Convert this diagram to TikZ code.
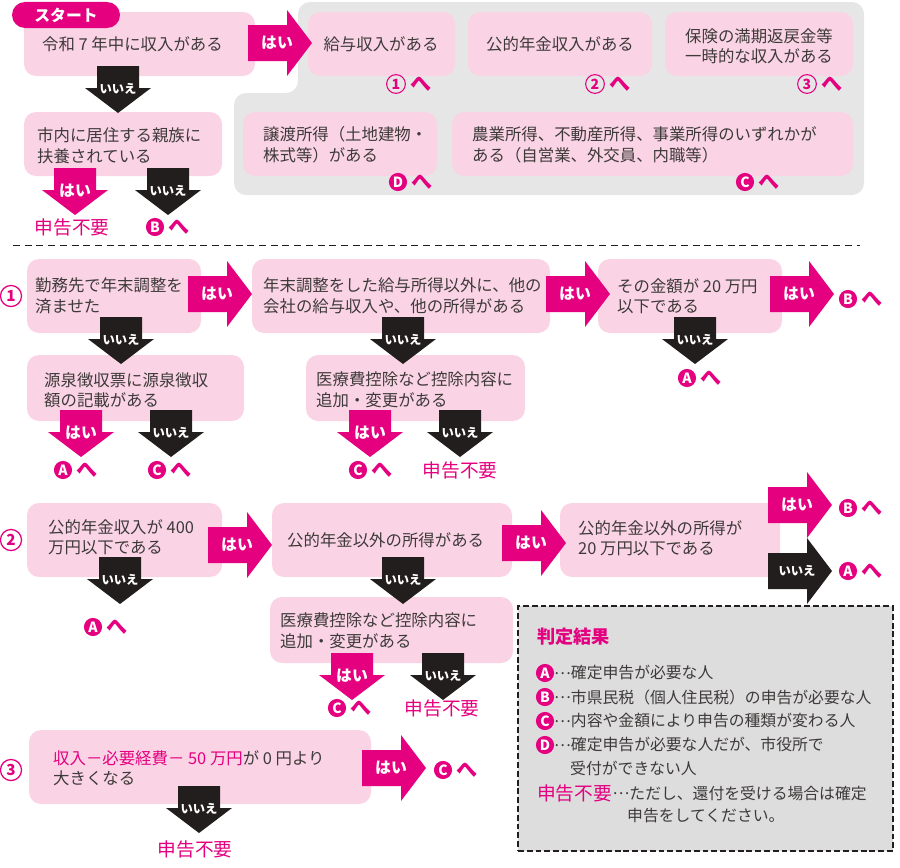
\documentclass[tikz,border=0pt]{standalone}
\usepackage{fontspec}
\setmainfont{Noto Sans CJK JP}
\usetikzlibrary{positioning,fit}

\definecolor{hotpink}{RGB}{228,0,127}
\definecolor{boxpink}{RGB}{250,212,229}
\definecolor{panelgray}{RGB}{230,230,230}
\definecolor{legendgray}{RGB}{221,221,222}
\definecolor{inkblack}{RGB}{35,30,30}
\definecolor{inkgray}{RGB}{62,58,57}

\tikzset{
    qbox/.style={rectangle, rounded corners=0.36cm, fill=boxpink, inner sep=0pt},
    qtext/.style={anchor=west, align=left, inner sep=0pt, text=inkgray,
        font=\fontsize{14}{17.5}\selectfont},
    starttab/.style={rectangle, rounded corners=0.39cm, fill=hotpink, text=white,
        minimum width=3.24cm, minimum height=0.78cm, inner sep=0pt,
        font=\bfseries\fontsize{13.5}{13.5}\selectfont},
    yesfill/.style={fill=hotpink},
    nofill/.style={fill=inkblack},
    yeslab/.style={text=white, inner sep=0pt, font=\bfseries\fontsize{13.5}{13.5}\selectfont},
    nolab/.style={text=white, inner sep=0pt, font=\bfseries\fontsize{10.5}{10.5}\selectfont},
    letmark/.style={circle, fill=hotpink, text=white, minimum size=15.5pt, inner sep=0pt,
        font=\bfseries\fontsize{12}{12}\selectfont},
    nummark/.style={circle, draw=hotpink, line width=0.9pt, text=hotpink, minimum size=16pt,
        inner sep=0pt, font=\bfseries\fontsize{12}{12}\selectfont},
    secmark/.style={circle, draw=hotpink, line width=1.1pt, text=hotpink, minimum size=18pt,
        inner sep=0pt, font=\bfseries\fontsize{13}{13}\selectfont},
    hemark/.style={text=hotpink, inner sep=0pt, font=\bfseries\fontsize{18}{18}\selectfont},
    notneeded/.style={text=hotpink, inner sep=0pt, font=\fontsize{16}{16}\selectfont},
    legendbox/.style={rectangle, fill=legendgray, draw=inkblack, line width=1.5pt,
        dash pattern=on 5pt off 2.5pt, inner sep=0pt},
    legendhead/.style={anchor=west, text=hotpink, inner sep=0pt,
        font=\bfseries\fontsize{15.5}{15.5}\selectfont},
    legendtext/.style={anchor=west, text=inkgray, inner sep=0pt,
        font=\fontsize{13.5}{16}\selectfont},
    sepline/.style={draw=inkblack, line width=0.8pt, dash pattern=on 6pt off 4pt}
}

\newcommand{\downblock}[5]{%
    \fill[#1fill] (#3-21,#4) -- (#3+21,#4) -- (#3+21,#4+22)
        -- (#3+33,#4+22) -- (#3,#4+47) -- (#3-33,#4+22)
        -- (#3-21,#4+22) -- cycle;
    \node[#1lab] (#2) at (#3,#4+23) {#5};%
}
\newcommand{\rightblock}[5]{%
    \fill[#1fill] (#3,#4-18) -- (#3+39,#4-18) -- (#3+39,#4-33)
        -- (#3+64,#4) -- (#3+39,#4+33) -- (#3+39,#4+18)
        -- (#3,#4+18) -- cycle;
    \node[#1lab] (#2) at (#3+29,#4) {#5};%
}
\newcommand{\tomark}[4]{%
    \node[letmark] (#1) at (#2,#3) {#4};
    \node[hemark, right=3.5pt of #1] (#1-he) {へ};%
}
\newcommand{\tonum}[4]{%
    \node[nummark] (#1) at (#2,#3) {#4};
    \node[hemark, right=4pt of #1] (#1-he) {へ};%
}
\newcommand{\middots}{\raisebox{0.3em}{…}}

\begin{document}
\begin{tikzpicture}[
    x=0.03cm,
    y=-0.03cm
]
    \useasboundingbox (0,0) rectangle (900,867);

    \fill[panelgray, rounded corners=0.36cm] (298,2) -- (864,2) -- (864,195)
        -- (234,195) -- (234,93) -- (298,93) -- cycle;

    \node[qbox, fit={(24,12) (255,76)}] (income) {};
    \node[qtext] (income-t) at (42,44) {令和 7 年中に収入がある};
    \node[starttab] (start) at (66,15) {スタート};
    \node[qbox, fit={(308,12) (455,76)}] (salary) {};
    \node[qtext, anchor=center] (salary-t) at (381,44) {給与収入がある};
    \node[qbox, fit={(468,12) (652,76)}] (pension) {};
    \node[qtext, anchor=center] (pension-t) at (560,44) {公的年金収入がある};
    \node[qbox, fit={(665,12) (853,76)}] (lumpsum) {};
    \node[qtext, anchor=center, align=center] (lumpsum-t) at (759,46)
        {保険の満期返戻金等\\一時的な収入がある};
    \node[qbox, fit={(243,112) (437,176)}] (transfer) {};
    \node[qtext] (transfer-t) at (263,145) {譲渡所得（土地建物・\\株式等）がある};
    \node[qbox, fit={(452,112) (853,176)}] (business) {};
    \node[qtext] (business-t) at (472,145)
        {農業所得、不動産所得、事業所得のいずれかが\\ある（自営業、外交員、内職等）};
    \node[qbox, fit={(24,112) (222,176)}] (family) {};
    \node[qtext] (family-t) at (37,146) {市内に居住する親族に\\扶養されている};

    \rightblock{yes}{income-yes}{248}{43}{はい}
    \downblock{no}{income-no}{118}{66}{いいえ}
    \downblock{yes}{family-yes}{75}{168}{はい}
    \downblock{no}{family-no}{168}{168}{いいえ}

    \tonum{to-one}{396}{84}{1}
    \tonum{to-two}{595}{84}{2}
    \tonum{to-three}{807}{84}{3}
    \tomark{transfer-d}{398}{182}{D}
    \tomark{business-c}{745}{182}{C}
    \node[notneeded] (family-none) at (72,227) {申告不要};
    \tomark{family-b}{155}{227}{B}

    \draw[sepline] (13,245) -- (860,245);

    \node[secmark] (sec-one) at (11,296) {1};
    \node[qbox, fit={(27,259) (201,333)}] (yearend) {};
    \node[qtext] (yearend-t) at (35,296) {勤務先で年末調整を\\済ませた};
    \node[qbox, fit={(252,259) (550,333)}] (other) {};
    \node[qtext] (other-t) at (263,296)
        {年末調整をした給与所得以外に、他の\\会社の給与収入や、他の所得がある};
    \node[qbox, fit={(598,259) (782,333)}] (amount) {};
    \node[qtext] (amount-t) at (617,296) {その金額が 20 万円\\以下である};
    \node[qbox, fit={(27,355) (244,421)}] (withhold) {};
    \node[qtext] (withhold-t) at (44,390) {源泉徴収票に源泉徴収\\額の記載がある};
    \node[qbox, fit={(306,355) (525,421)}] (deduct-one) {};
    \node[qtext] (deduct-one-t) at (316,390) {医療費控除など控除内容に\\追加・変更がある};

    \rightblock{yes}{yearend-yes}{188}{294}{はい}
    \rightblock{yes}{other-yes}{546}{294}{はい}
    \rightblock{yes}{amount-yes}{770}{294}{はい}
    \downblock{no}{yearend-no}{121}{317}{いいえ}
    \downblock{no}{other-no}{403}{317}{いいえ}
    \downblock{no}{amount-no}{695}{317}{いいえ}
    \downblock{yes}{withhold-yes}{81}{410}{はい}
    \downblock{no}{withhold-no}{171}{410}{いいえ}
    \downblock{yes}{deduct-one-yes}{370}{410}{はい}
    \downblock{no}{deduct-one-no}{460}{410}{いいえ}

    \tomark{amount-b}{848}{299}{B}
    \tomark{amount-a}{687}{378}{A}
    \tomark{withhold-a}{63}{470}{A}
    \tomark{withhold-c}{157}{470}{C}
    \tomark{deduct-one-c}{358}{470}{C}
    \node[notneeded] (deduct-one-none) at (460,470) {申告不要};

    \node[secmark] (sec-two) at (11,540) {2};
    \node[qbox, fit={(27,503) (222,577)}] (pension-cap) {};
    \node[qtext] (pension-cap-t) at (48,537) {公的年金収入が 400\\万円以下である};
    \node[qbox, fit={(272,503) (512,577)}] (pension-other) {};
    \node[qtext] (pension-other-t) at (287,540) {公的年金以外の所得がある};
    \node[qbox, fit={(560,503) (780,577)}] (pension-small) {};
    \node[qtext] (pension-small-t) at (578,538) {公的年金以外の所得が\\20 万円以下である};
    \node[qbox, fit={(270,597) (513,663)}] (deduct-two) {};
    \node[qtext] (deduct-two-t) at (280,631) {医療費控除など控除内容に\\追加・変更がある};

    \rightblock{yes}{pension-cap-yes}{208}{545}{はい}
    \rightblock{yes}{pension-other-yes}{502}{543}{はい}
    \rightblock{yes}{pension-small-yes}{768}{505}{はい}
    \rightblock{no}{pension-small-no}{768}{571}{いいえ}
    \downblock{no}{pension-cap-no}{120}{557}{いいえ}
    \downblock{no}{pension-other-no}{403}{557}{いいえ}
    \downblock{yes}{deduct-two-yes}{352}{653}{はい}
    \downblock{no}{deduct-two-no}{443}{653}{いいえ}

    \tomark{pension-cap-a}{93}{627}{A}
    \tomark{pension-small-b}{848}{508}{B}
    \tomark{pension-small-a}{848}{571}{A}
    \tomark{deduct-two-c}{337}{708}{C}
    \node[notneeded] (deduct-two-none) at (442,708) {申告不要};

    \node[secmark] (sec-three) at (11,770) {3};
    \node[qbox, fit={(29,730) (371,804)}] (net) {};
    \node[qtext] (net-t) at (53,768)
        {{\color{hotpink}収入－必要経費－ 50 万円}が 0 円より\\大きくなる};
    \rightblock{yes}{net-yes}{362}{768}{はい}
    \downblock{no}{net-no}{199}{786}{いいえ}
    \tomark{net-c}{443}{770}{C}
    \node[notneeded] (net-none) at (195,849) {申告不要};

    \node[legendbox, fit={(518,606) (893,851)}] (legend) {};
    \node[legendhead] (legend-title) at (537,637) {判定結果};
    \node[letmark] (key-a) at (545,673) {A};
    \node[legendtext] (key-a-t) at (554,673) {\middots 確定申告が必要な人};
    \node[letmark] (key-b) at (545,697) {B};
    \node[legendtext] (key-b-t) at (554,697) {\middots 市県民税（個人住民税）の申告が必要な人};
    \node[letmark] (key-c) at (545,721) {C};
    \node[legendtext] (key-c-t) at (554,721) {\middots 内容や金額により申告の種類が変わる人};
    \node[letmark] (key-d) at (545,745) {D};
    \node[legendtext] (key-d-t) at (554,745) {\middots 確定申告が必要な人だが、市役所で};
    \node[legendtext] (key-d-t2) at (570,768) {受付ができない人};
    \node[notneeded, anchor=west] (key-none) at (537,793) {申告不要};
    \node[legendtext, right=0pt of key-none] (key-none-t) {\middots ただし、還付を受ける場合は確定};
    \node[legendtext] (key-none-t2) at (627,816) {申告をしてください。};
\end{tikzpicture}
\end{document}
